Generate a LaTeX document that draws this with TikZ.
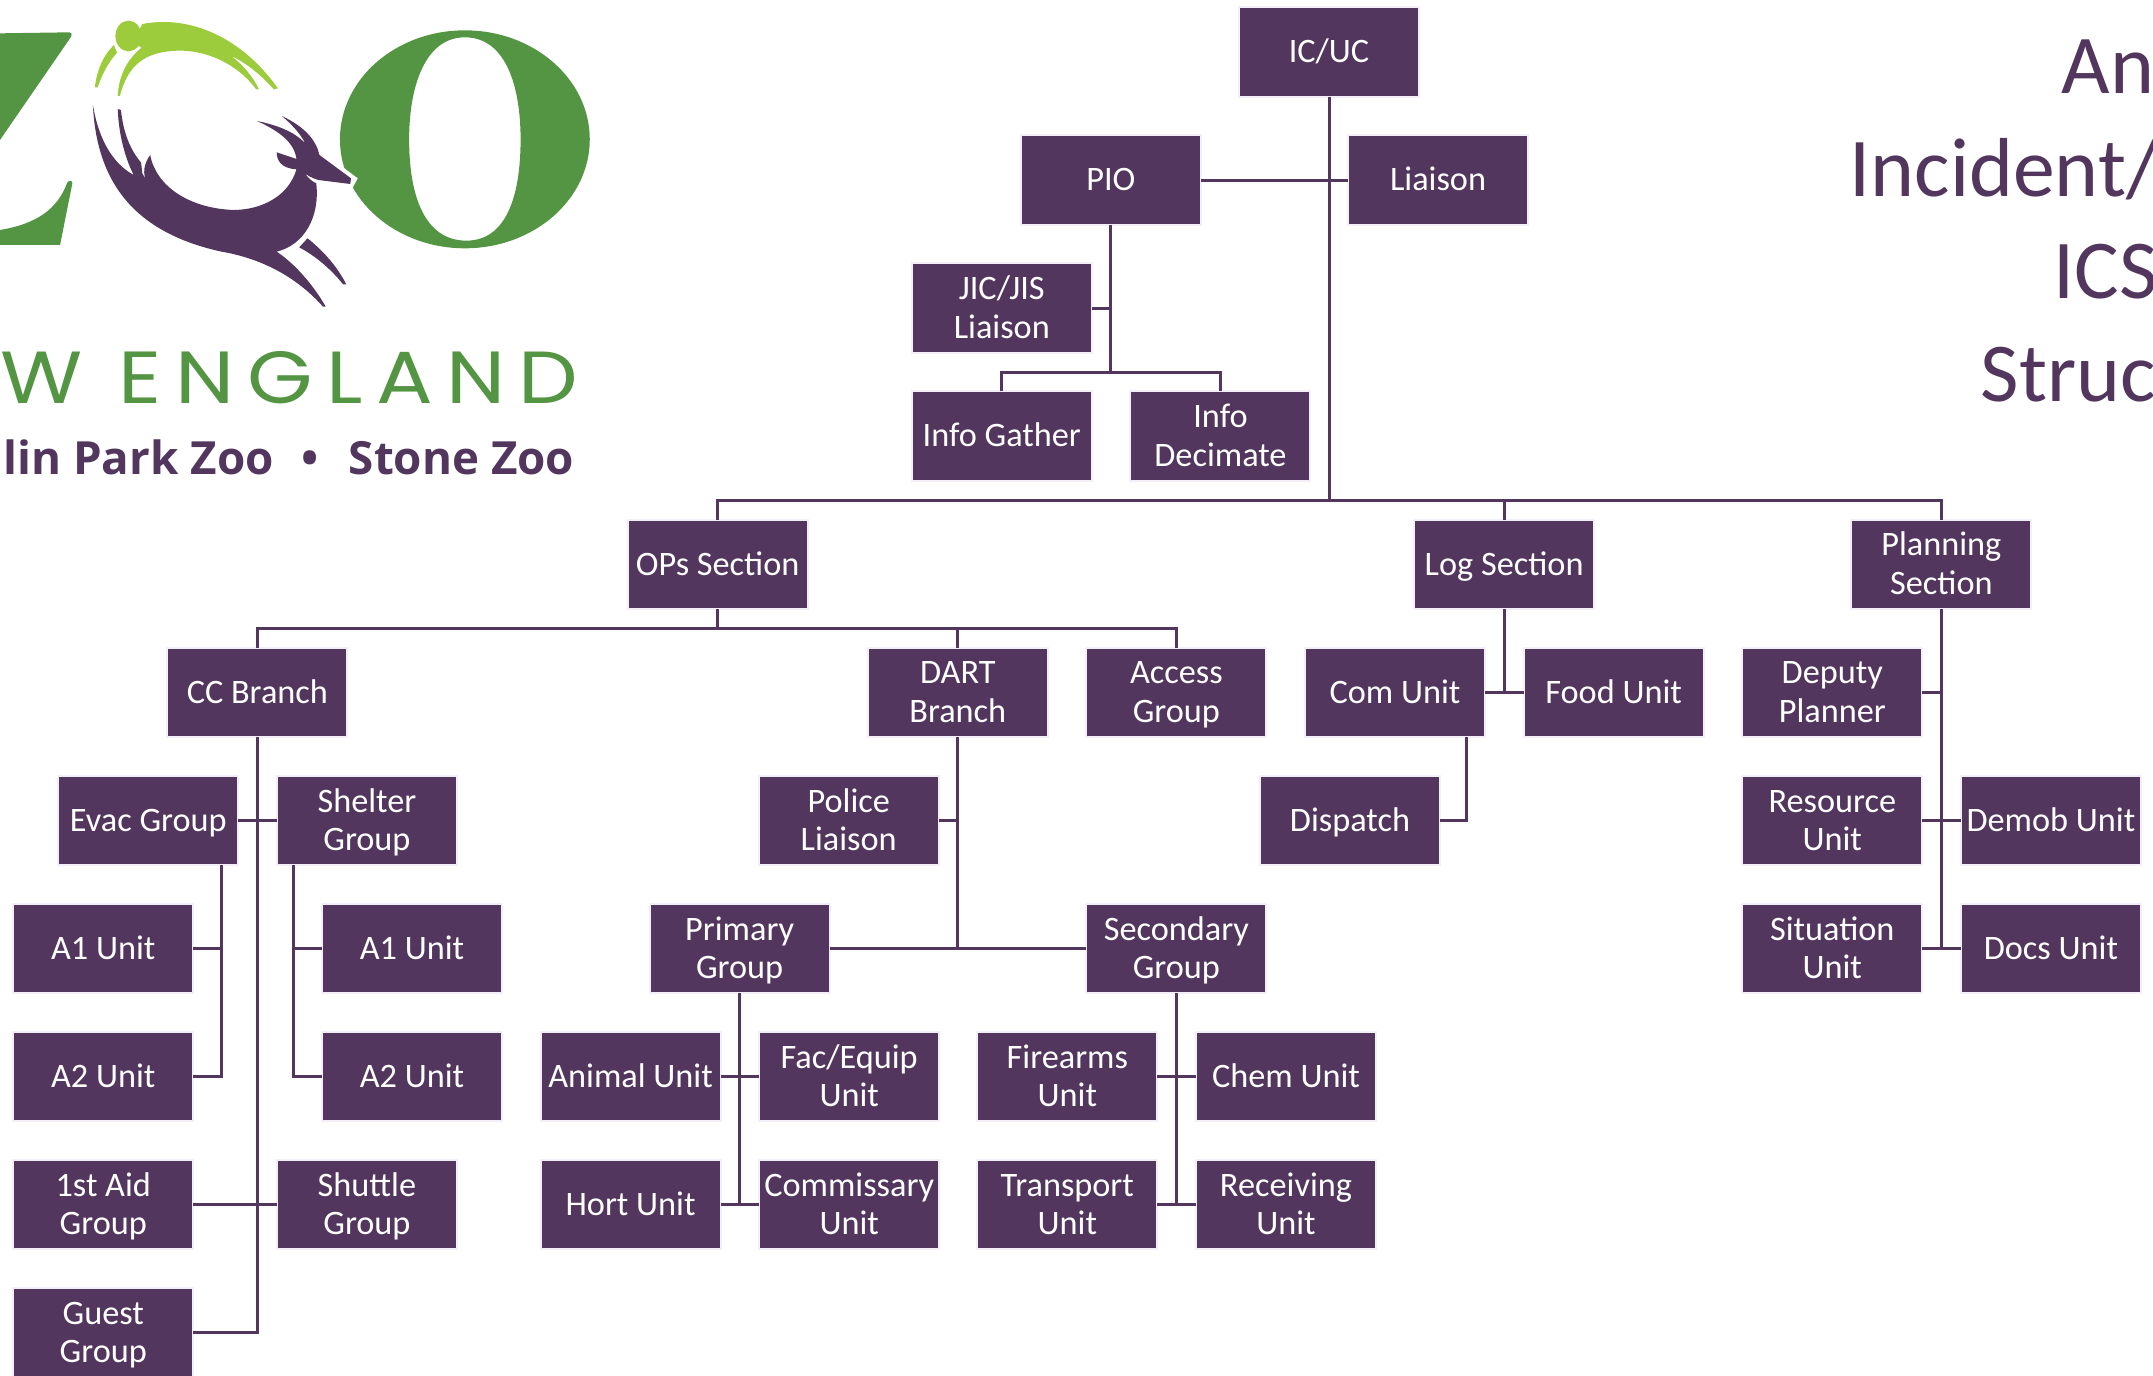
\documentclass[tikz,border=0pt]{standalone}
\usepackage{xcolor}
\usepackage{fontspec}
\setmainfont{Carlito}
\newfontfamily\logofont[LetterSpace=18,FakeStretch=1.14]{Poppins}
\newfontfamily\logosub{Open Sans}
\usepackage{tikz}
\usetikzlibrary{positioning,calc}
\definecolor{zoopurple}{HTML}{52365E}
\definecolor{zoogreen}{HTML}{549543}
\definecolor{zoolime}{HTML}{9CCB3B}
\definecolor{boxedge}{HTML}{F4EEF8}
\newcommand{\boxstrut}{\rule[-2.4pt]{0pt}{10.9pt}}
\newcommand{\twoline}[2]{\boxstrut #1\\#2}

\begin{document}
\begin{tikzpicture}[x=0.01cm, y=-0.01cm, node distance=0.385cm,
    unitbox/.style={rectangle, draw=boxedge, line width=0.02cm, fill=zoopurple, text=white, minimum width=1.8cm, minimum height=0.895cm, inner sep=0pt, outer sep=0pt, align=center, font=\fontsize{9.75pt}{10.9pt}\selectfont, execute at begin node=\boxstrut, execute at end node=\boxstrut},
    conn/.style={draw=zoopurple, line width=0.03cm},
    titletext/.style={anchor=base west, inner sep=0pt, text=zoopurple, font=\fontsize{23.8pt}{28pt}\selectfont}]

    \useasboundingbox (0,0) rectangle (2153,1376);

    % logo
    \begin{scope}[xscale=0.3953, yscale=0.3333]
        \fill[zoogreen] (0,100) -- (175,97) .. controls (182,97) and (183,103) .. (180,110) -- (0,420) -- cycle;
        \fill[zoogreen] (0,690) .. controls (90,672) and (145,630) .. (170,548) .. controls (173,541) and (184,541) .. (183,550) -- (152,735) -- (0,735) -- cycle;
        \fill[zoogreen, even odd rule] (1176,418) ellipse [x radius=316, y radius=327]
            (1176,112) .. controls (1280,112) and (1317,260) .. (1317,418) .. controls (1317,590) and (1280,722) .. (1180,722) .. controls (1075,722) and (1035,590) .. (1035,418) .. controls (1035,260) and (1075,112) .. (1176,112) -- cycle;
        \fill[white] (860,495) -- (905,535) -- (890,568) -- (850,560) -- cycle;
        \fill[zoolime] (325,108) ellipse [x radius=33, y radius=46];
        \fill[zoolime] (360,72) .. controls (480,45) and (610,110) .. (703,265) -- (693,268) .. controls (660,225) and (625,190) .. (585,168) .. controls (615,195) and (640,230) .. (655,268) -- (648,268) .. controls (600,190) and (520,150) .. (450,152) .. controls (370,155) and (325,190) .. (303,288) -- (298,288) .. controls (300,230) and (320,180) .. (358,143) -- (350,137) -- (320,155) -- (340,120) -- cycle;
        \fill[zoolime] (240,262) .. controls (245,210) and (262,165) .. (288,135) -- (296,158) .. controls (272,190) and (258,225) .. (247,262) -- cycle;
        \fill[zoopurple] (235,315) .. controls (250,420) and (285,490) .. (338,525) .. controls (315,470) and (300,400) .. (298,327) -- (306,330) .. controls (312,400) and (330,450) .. (357,488) -- (360,520) -- (368,537) .. controls (360,510) and (368,485) .. (380,465) .. controls (395,560) and (480,625) .. (590,630) .. controls (660,630) and (730,590) .. (750,508) .. controls (710,505) and (700,480) .. (700,457) -- (750,477) .. controls (745,430) and (710,395) .. (650,363) .. controls (700,375) and (745,395) .. (772,430) .. controls (760,400) and (735,370) .. (713,348) .. controls (770,380) and (800,420) .. (808,465) -- (888,535) -- (886,552) -- (805,540) .. controls (790,535) and (775,525) .. (770,518) .. controls (780,535) and (790,545) .. (800,550) .. controls (810,650) and (770,735) .. (700,755) .. controls (750,795) and (795,860) .. (824,920) -- (817,920) .. controls (750,830) and (660,775) .. (560,755) .. controls (350,700) and (245,560) .. (235,315) -- cycle;
        \fill[zoopurple] (778,715) .. controls (825,760) and (855,805) .. (876,853) -- (868,853) .. controls (835,805) and (800,770) .. (757,742) -- cycle;
    \end{scope}
    \node[anchor=base east, inner sep=0pt, text=zoogreen, font=\logofont\fontsize{21pt}{25pt}\selectfont] (logoname) at (579,404) {W ENGLAND};
    \node[anchor=base east, inner sep=0pt, text=zoopurple, font=\logosub\bfseries\fontsize{13pt}{15pt}\selectfont] (logozoos) at (575,475) {lin Park Zoo\hspace{0.62em}•\hspace{0.65em}Stone Zoo};

    % title
    \node[titletext] (titlea) at (2061,94) {An};
    \node[titletext] (titleb) at (1849,197) {Incident/};
    \node[titletext] (titlec) at (2053,299) {ICS};
    \node[titletext] (titled) at (1980,402) {Struc};

    % command
    \node[unitbox] (ic) at (1329,52) {IC/UC};
    \node[unitbox, below=of ic, xshift=-2.18cm] (pio) {PIO};
    \node[unitbox, below=of ic, xshift=1.09cm] (liaison) {Liaison};
    \node[unitbox, below=of pio, xshift=-1.09cm] (jic) {\twoline{JIC/JIS}{Liaison}};
    \node[unitbox, below=of jic] (infogather) {Info Gather};
    \node[unitbox, right=of infogather] (infodec) {\twoline{Info}{Decimate}};

    % sections
    \node[unitbox, below=of infogather, xshift=-2.84cm] (ops) {OPs Section};
    \node[unitbox, below=of ops, xshift=-4.6cm] (cc) {CC Branch};
    \node[unitbox, below=of ops, xshift=2.4cm] (dart) {\twoline{DART}{Branch}};
    \node[unitbox, right=of dart] (access) {\twoline{Access}{Group}};
    \node[unitbox, right=of access] (com) {Com Unit};
    \node[unitbox, right=of com] (food) {Food Unit};
    \node[unitbox, right=of food] (deputy) {\twoline{Deputy}{Planner}};
    \node[unitbox, above=of com, xshift=1.09cm] (log) {Log Section};
    \node[unitbox, above=of deputy, xshift=1.09cm] (planning) {\twoline{Planning}{Section}};

    % cc branch
    \node[unitbox, below=of cc, xshift=-1.09cm] (evac) {Evac Group};
    \node[unitbox, right=of evac] (shelter) {\twoline{Shelter}{Group}};
    \node[unitbox, below=of evac, xshift=-0.45cm] (aonel) {A1 Unit};
    \node[unitbox, below=of aonel] (atwol) {A2 Unit};
    \node[unitbox, below=of atwol] (firstaid) {\twoline{1st Aid}{Group}};
    \node[unitbox, below=of firstaid] (guest) {\twoline{Guest}{Group}};
    \node[unitbox, below=of shelter, xshift=0.45cm] (aoner) {A1 Unit};
    \node[unitbox, below=of aoner] (atwor) {A2 Unit};
    \node[unitbox, below=of atwor, xshift=-0.45cm] (shuttle) {\twoline{Shuttle}{Group}};

    % dart branch
    \node[unitbox, below=of dart, xshift=-1.09cm] (police) {\twoline{Police}{Liaison}};
    \node[unitbox, below=of police, xshift=-1.09cm] (primary) {\twoline{Primary}{Group}};
    \node[unitbox, right=of primary, xshift=2.18cm] (secondary) {\twoline{Secondary}{Group}};
    \node[unitbox, below=of primary, xshift=-1.09cm] (animal) {Animal Unit};
    \node[unitbox, right=of animal] (fac) {\twoline{Fac/Equip}{Unit}};
    \node[unitbox, below=of animal] (hort) {Hort Unit};
    \node[unitbox, right=of hort] (commissary) {\twoline{Commissary}{Unit}};
    \node[unitbox, below=of secondary, xshift=-1.09cm] (firearms) {\twoline{Firearms}{Unit}};
    \node[unitbox, right=of firearms] (chem) {Chem Unit};
    \node[unitbox, below=of firearms] (transport) {\twoline{Transport}{Unit}};
    \node[unitbox, right=of transport] (receiving) {\twoline{Receiving}{Unit}};

    % log and planning
    \node[unitbox, below=of com, xshift=-0.45cm] (dispatch) {Dispatch};
    \node[unitbox, below=of deputy] (resource) {\twoline{Resource}{Unit}};
    \node[unitbox, right=of resource] (demob) {Demob Unit};
    \node[unitbox, below=of resource] (situation) {\twoline{Situation}{Unit}};
    \node[unitbox, right=of situation] (docs) {Docs Unit};

    \coordinate (topbar) at ($(ops.north)+(0,0.19cm)$);
    \coordinate (piobar) at ($(infogather.north)+(0,0.19cm)$);
    \coordinate (opsbar) at ($(cc.north)+(0,0.19cm)$);

    \draw[conn] (ic.south) -- (topbar -| ic);
    \draw[conn] (pio) -- (liaison);
    \draw[conn] (ops.north) -- (topbar) -| (planning.north);
    \draw[conn] (log.north) -- (topbar -| log);

    \draw[conn] (pio.south) -- (piobar -| pio);
    \draw[conn] (jic.east) -- (jic.east -| pio);
    \draw[conn] (infogather.north) -- (piobar) -| (infodec.north);

    \draw[conn] (ops.south) -- (opsbar -| ops);
    \draw[conn] (cc.north) -- (opsbar) -| (access.north);
    \draw[conn] (dart.north) -- (opsbar -| dart);

    \draw[conn] (cc.south) |- (guest.east);
    \draw[conn] (evac) -- (shelter);
    \draw[conn] (firstaid) -- (shuttle);
    \draw[conn] ($(evac.south)+(0.73cm,0)$) |- (atwol.east);
    \draw[conn] (aonel.east) -- (aonel.east -| {$(evac.south)+(0.73cm,0)$});
    \draw[conn] ($(shelter.south)+(-0.73cm,0)$) |- (atwor.west);
    \draw[conn] (aoner.west) -- (aoner.west -| {$(shelter.south)+(-0.73cm,0)$});

    \draw[conn] (dart.south) -- (dart |- primary);
    \draw[conn] (police.east) -- (police.east -| dart);
    \draw[conn] (primary) -- (secondary);
    \draw[conn] (primary.south) -- (primary |- hort);
    \draw[conn] (animal) -- (fac);
    \draw[conn] (hort) -- (commissary);
    \draw[conn] (secondary.south) -- (secondary |- transport);
    \draw[conn] (firearms) -- (chem);
    \draw[conn] (transport) -- (receiving);

    \draw[conn] (log.south) -- (log |- food);
    \draw[conn] (com) -- (food);
    \draw[conn] ($(com.south)+(0.71cm,0)$) |- (dispatch.east);

    \draw[conn] (planning.south) -- (planning |- situation);
    \draw[conn] (deputy.east) -- (deputy.east -| planning);
    \draw[conn] (resource) -- (demob);
    \draw[conn] (situation) -- (docs);

\end{tikzpicture}
\end{document}
